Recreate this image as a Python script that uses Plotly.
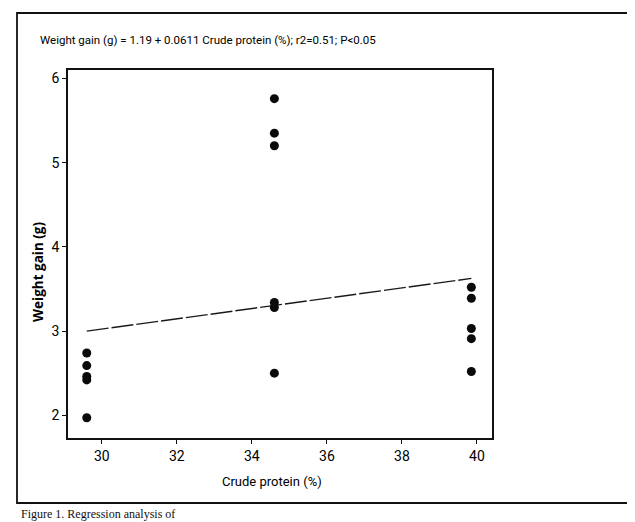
import plotly.graph_objects as go

# Data
crude_protein = [29.6, 29.6, 29.6, 29.6, 29.6,
                 34.6, 34.6, 34.6, 34.6, 34.6, 34.6,
                 39.85, 39.85, 39.85, 39.85, 39.85]
weight_gain = [2.74, 2.59, 2.46, 2.42, 1.97,
               5.76, 5.35, 5.20, 3.34, 3.28, 2.50,
               3.52, 3.39, 3.03, 2.91, 2.52]
intercept = 1.19
slope = 0.0611
x_ticks = [30, 32, 34, 36, 38, 40]
y_ticks = [2, 3, 4, 5, 6]
title_text = "Weight gain (g) = 1.19 + 0.0611 Crude protein (%); r2=0.51; P<0.05"
x_title = "Crude protein (%)"
y_title = "Weight gain (g)"
caption = "Figure 1. Regression analysis of"

fit_x = [min(crude_protein), max(crude_protein)]
fit_y = [intercept + slope * v for v in fit_x]

narrow = "Liberation Sans Narrow, Arial Narrow, Roboto, Liberation Sans, sans-serif"

fig = go.Figure()
fig.add_trace(go.Scatter(x=fit_x, y=fit_y, mode="lines",
                         line=dict(color="#1a1a1a", width=1.4, dash="22px,3px"),
                         showlegend=False, hoverinfo="skip"))
fig.add_trace(go.Scatter(x=crude_protein, y=weight_gain, mode="markers",
                         marker=dict(color="#0a0a0a", size=9, symbol="circle"),
                         showlegend=False))

OFF = 8  # page body margin
W, H = 635 - OFF, 522 - OFF
# plot area in window pixels: x 68..492, y 70..438
L, T = 68 - OFF, 70 - OFF
R = W - (492 - OFF)
B = H - (438 - OFF)
pw, ph = W - L - R, H - T - B

def px(x):
    return (x - OFF - L) / pw

def py(y):
    return (H - B - (y - OFF)) / ph

fig.update_layout(
    width=W, height=H,
    margin=dict(l=L, r=R, t=T, b=B),
    paper_bgcolor="white", plot_bgcolor="white",
    font=dict(family=narrow, color="#000000", size=13),
    xaxis=dict(range=[29.1, 40.4], tickvals=x_ticks, ticks="outside", ticklen=4,
               tickwidth=1.2, tickcolor="#111", showline=True, linecolor="#111",
               linewidth=1.6, mirror=True, showgrid=False, zeroline=False,
               tickfont=dict(size=14, family=narrow, color="#000")),
    yaxis=dict(range=[1.73, 6.1], tickvals=y_ticks, ticks="outside", ticklen=4,
               tickwidth=1.2, tickcolor="#111", showline=True, linecolor="#111",
               linewidth=1.6, mirror=True, showgrid=False, zeroline=False,
               tickfont=dict(size=14, family=narrow, color="#000")),
    shapes=[dict(type="rect", xref="paper", yref="paper",
                 x0=px(17), x1=px(632), y0=py(503), y1=py(13),
                 line=dict(color="#111", width=1.8), layer="below")],
    annotations=[
        dict(text=title_text, xref="paper", yref="paper", x=px(38), y=py(40),
             xanchor="left", yanchor="middle", showarrow=False,
             font=dict(size=11.5, family=narrow, color="#000")),
        dict(text="<b>" + y_title + "</b>", xref="paper", yref="paper",
             x=px(38), y=py(272), textangle=-90, xanchor="center", yanchor="middle",
             showarrow=False, font=dict(size=13.5, family="Open Sans, DejaVu Sans, sans-serif", color="#000")),
        dict(text=x_title, xref="paper", yref="paper", x=px(272), y=py(481),
             xanchor="center", yanchor="middle", showarrow=False,
             font=dict(size=13, family=narrow, color="#000")),
        dict(text=caption, xref="paper", yref="paper", x=px(20), y=py(506),
             xanchor="left", yanchor="top", showarrow=False, borderpad=0,
             font=dict(size=12, family="Liberation Serif, serif", color="#111")),
    ],
)

fig.write_html("out.html")
